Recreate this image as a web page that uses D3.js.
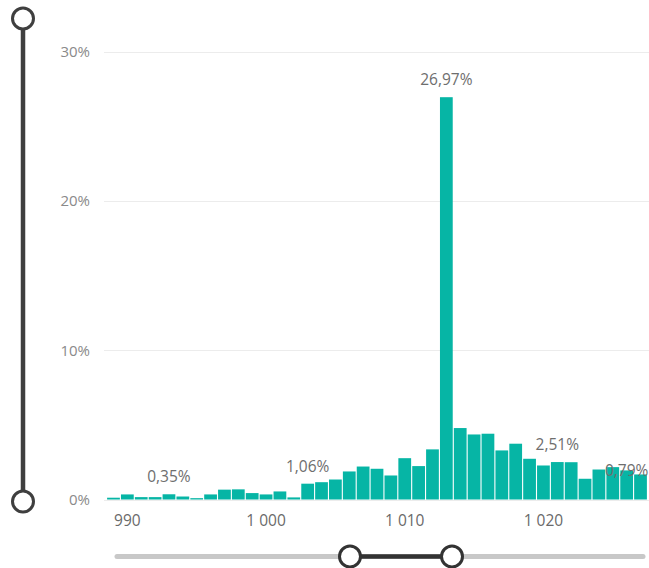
<!DOCTYPE html>
<html>
<head>
<meta charset="utf-8">
<script src="https://cdn.jsdelivr.net/npm/d3@7"></script>
<style>
  html, body { margin: 0; padding: 0; background: #fff; }
  svg { display: block; }
  text { font-family: "Open Sans", "Noto Sans", sans-serif; }
</style>
</head>
<body>
<svg id="chart" width="649" height="568"></svg>
<script>
// ---- Data ----
const categories = [989, 990, 991, 992, 993, 994, 995, 996, 997, 998, 999, 1000, 1001, 1002, 1003, 1004, 1005, 1006, 1007, 1008, 1009, 1010, 1011, 1012, 1013, 1014, 1015, 1016, 1017, 1018, 1019, 1020, 1021, 1022, 1023, 1024, 1025, 1026, 1027];
const values = [0.12, 0.34, 0.16, 0.16, 0.35, 0.20, 0.09, 0.34, 0.66, 0.68, 0.43, 0.34, 0.54, 0.14, 1.06, 1.16, 1.34, 1.88, 2.21, 2.06, 1.61, 2.77, 2.24, 3.36, 26.97, 4.79, 4.36, 4.41, 3.29, 3.74, 2.73, 2.28, 2.51, 2.50, 1.39, 2.01, 2.17, 1.95, 1.68];
const labelCategories = [993, 1003, 1013, 1021, 1026];
const labelValues = [0.35, 1.06, 26.97, 2.51, 0.79];
const yTicks = [0, 10, 20, 30];
const xTicks = [990, 1000, 1010, 1020];

// ---- Setup ----
const svg = d3.select("#chart");
const W = 649, H = 568;
const barColor = "#06B5A5";

const x = d3.scaleBand().domain(categories).range([106, 648]).padding(0.08);
const y = d3.scaleLinear().domain([0, 30]).range([499.5, 52]);

const fmtNum = v => d3.format(",")(v).replace(/,/g, " ");
const fmtPct = v => d3.format(".2f")(v).replace(".", ",") + "%";

// gridlines
svg.append("g").selectAll("line").data(yTicks).join("line")
  .attr("x1", 104).attr("x2", W)
  .attr("y1", d => Math.round(y(d)) + 0.5).attr("y2", d => Math.round(y(d)) + 0.5)
  .attr("stroke", "#ececec").attr("stroke-width", 1);

// y tick labels
svg.append("g").selectAll("text").data(yTicks).join("text")
  .attr("x", 90).attr("y", d => y(d))
  .attr("dy", "0.35em")
  .attr("text-anchor", "end")
  .attr("font-size", 15)
  .attr("fill", "#8a8a8a")
  .text(d => d + "%");

// bars
const data = categories.map((c, i) => ({ c, v: values[i] }));
svg.append("g").selectAll("rect").data(data).join("rect")
  .attr("x", d => x(d.c))
  .attr("width", x.bandwidth())
  .attr("y", d => y(d.v))
  .attr("height", d => y(0) - y(d.v))
  .attr("fill", barColor);

// x axis labels
const xAxis = d3.axisBottom(x).tickValues(xTicks).tickSize(0).tickPadding(0).tickFormat(fmtNum);
const gx = svg.append("g").attr("transform", `translate(0, ${y(0) + 15})`).call(xAxis);
gx.select(".domain").remove();
gx.selectAll("text")
  .attr("font-size", 15.5)
  .attr("font-family", "\"Open Sans\", \"Noto Sans\", sans-serif")
  .attr("fill", "#6a6a6a");

// data labels
const labels = labelCategories.map((c, i) => ({ c, v: labelValues[i] }));
svg.append("g").selectAll("text").data(labels).join("text")
  .attr("x", d => x(d.c) + x.bandwidth() / 2)
  .attr("y", d => y(d.v) - 12)
  .attr("text-anchor", "middle")
  .attr("font-size", 15.5)
  .attr("fill", "#6e6e6e")
  .text(d => fmtPct(d.v));

// ---- Sliders (decoration) ----
const vs = svg.append("g");
vs.append("line").attr("x1", 23).attr("x2", 23).attr("y1", 18).attr("y2", 502)
  .attr("stroke", "#3f3f3f").attr("stroke-width", 4.5);
[18.5, 501.5].forEach(cy => {
  vs.append("circle").attr("cx", 23).attr("cy", cy).attr("r", 10.5)
    .attr("fill", "#fff").attr("stroke", "#3f3f3f").attr("stroke-width", 3);
});

const hs = svg.append("g");
hs.append("line").attr("x1", 117).attr("x2", 643).attr("y1", 556.5).attr("y2", 556.5)
  .attr("stroke", "#c8c8c8").attr("stroke-width", 5).attr("stroke-linecap", "round");
hs.append("line").attr("x1", 350).attr("x2", 452).attr("y1", 556.5).attr("y2", 556.5)
  .attr("stroke", "#333").attr("stroke-width", 4.5);
[350, 452].forEach(cx => {
  hs.append("circle").attr("cx", cx).attr("cy", 556.5).attr("r", 10.5)
    .attr("fill", "#fff").attr("stroke", "#333").attr("stroke-width", 3);
});
</script>
</body>
</html>
